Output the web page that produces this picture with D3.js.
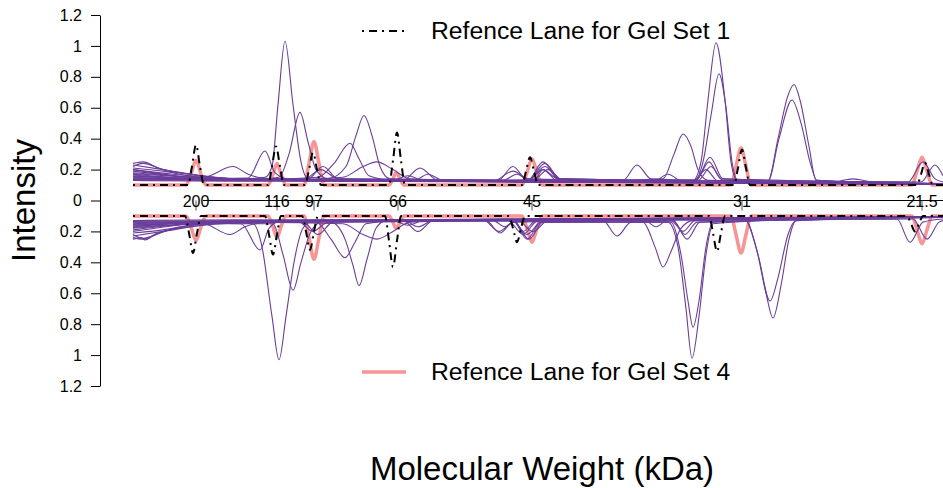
<!DOCTYPE html>
<html>
<head>
<meta charset="utf-8">
<script src="https://cdn.jsdelivr.net/npm/d3@7"></script>
<style>
  body { margin: 0; background: #fff; }
  svg { display: block; font-family: "Liberation Sans", Arial, sans-serif; }
</style>
</head>
<body>
<div class="chart"></div>
<script>
var svgWidth = 943;
var svgHeight = 488;

// marker ladder (kDa) and their migration positions
var markerLabels = ["200", "116", "97", "66", "45", "31", "21.5"];
var markerPos = [6.3, 14.4, 18.1, 26.5, 39.9, 60.9, 78.9];
var yTicks = [-1.2, -1, -0.8, -0.6, -0.4, -0.2, 0, 0.2, 0.4, 0.6, 0.8, 1, 1.2];

// reference lane, gel set 4 (same in both halves)
var ref4Lane = [[0,0.1],[5.3,0.1],[5.8,0.17],[6.3,0.26],[6.8,0.17],[7.3,0.1],[13.5,0.1],[14,0.17],[14.4,0.24],[14.8,0.17],[15.3,0.1],
  [17.1,0.1],[17.6,0.24],[18.1,0.38],[18.6,0.24],[19.1,0.1],[25.6,0.1],[26,0.14],[26.3,0.18],[26.7,0.14],[27.1,0.1],
  [38.9,0.1],[39.4,0.18],[39.9,0.27],[40.4,0.18],[40.9,0.1],[59.8,0.1],[60.3,0.22],[60.8,0.34],[61.3,0.22],[61.8,0.1],
  [77.9,0.1],[78.4,0.19],[78.9,0.28],[79.4,0.19],[79.9,0.1],[81,0.1]];

// reference lane, gel set 1
var ref1Top = [[0,0.1],[5.5,0.1],[5.9,0.22],[6.3,0.36],[6.7,0.22],[7.1,0.1],[13.5,0.1],[13.9,0.22],[14.3,0.35],[14.7,0.22],[15.1,0.1],
  [17.2,0.1],[17.6,0.2],[18,0.31],[18.4,0.2],[18.8,0.1],[25.6,0.1],[26,0.26],[26.4,0.44],[26.8,0.26],[27.2,0.1],
  [38.9,0.1],[39.3,0.19],[39.7,0.28],[40.1,0.19],[40.5,0.1],[60.1,0.1],[60.5,0.21],[60.9,0.33],[61.3,0.21],[61.7,0.1],
  [78.4,0.1],[78.8,0.17],[79.2,0.245],[79.6,0.17],[80,0.1],[81,0.1]];
var ref1Bottom = [[0,0.1],[5.2,0.1],[5.6,0.21],[6,0.34],[6.4,0.21],[6.8,0.1],[13.2,0.1],[13.6,0.22],[14,0.35],[14.4,0.22],[14.8,0.1],
  [16.9,0.1],[17.3,0.2],[17.7,0.32],[18.1,0.2],[18.5,0.1],[25.2,0.1],[25.6,0.26],[26,0.43],[26.4,0.26],[26.8,0.1],
  [37.6,0.1],[38,0.18],[38.4,0.27],[38.8,0.18],[39.2,0.1],[57.6,0.1],[58,0.21],[58.4,0.33],[58.8,0.21],[59.2,0.1],
  [77.4,0.1],[77.8,0.15],[78.2,0.2],[78.6,0.15],[79,0.1],[81,0.1]];

// sample lanes, top half
var lanesTop = [
  [[0,0.19],[4,0.16],[9,0.135],[13.2,0.15],[13.9,0.22],[14.5,0.62],[15.2,1.03],[16,0.62],[16.8,0.25],[17.5,0.14],[22,0.125],[35,0.12],[55,0.115],[81,0.105]],
  [[0,0.22],[1,0.24],[3,0.2],[8,0.15],[12,0.135],[14.6,0.15],[15.6,0.3],[16.7,0.57],[17.5,0.38],[18.3,0.2],[19.5,0.14],[30,0.125],[50,0.12],[81,0.11]],
  [[0,0.17],[6,0.14],[12,0.13],[19.5,0.14],[21.3,0.22],[22.3,0.42],[23.1,0.55],[23.9,0.42],[24.7,0.22],[25.7,0.14],[40,0.12],[60,0.115],[81,0.11]],
  [[0,0.2],[5,0.155],[12,0.135],[18.5,0.15],[20.1,0.24],[21.7,0.37],[22.6,0.27],[23.6,0.16],[26,0.13],[45,0.12],[81,0.11]],
  [[0,0.15],[7,0.135],[14,0.13],[21,0.15],[23,0.22],[24.4,0.25],[26,0.2],[27.7,0.14],[40,0.12],[81,0.105]],
  [[0,0.21],[3,0.19],[7,0.15],[10,0.22],[11.5,0.17],[13,0.145],[20,0.13],[40,0.12],[81,0.105]],
  [[0,0.16],[6,0.14],[11.5,0.145],[13.2,0.32],[14.2,0.18],[15.5,0.14],[30,0.125],[81,0.11]],
  [[0,0.18],[6,0.15],[14,0.13],[36,0.125],[38,0.19],[39.5,0.14],[45,0.12],[53,0.14],[54.1,0.3],[55,0.43],[55.8,0.35],[56.5,0.2],[57.5,0.13],[70,0.115],[81,0.105]],
  [[0,0.14],[8,0.13],[20,0.125],[39.5,0.13],[41,0.2],[42.5,0.14],[56,0.13],[56.8,0.25],[57.5,0.65],[58.3,1.02],[59.2,0.65],[59.8,0.25],[60.4,0.13],[70,0.115],[81,0.105]],
  [[0,0.13],[10,0.125],[39.5,0.13],[41.2,0.24],[42.7,0.14],[56.2,0.13],[57,0.25],[57.8,0.55],[58.6,0.82],[59.3,0.6],[59.9,0.25],[60.5,0.13],[81,0.105]],
  [[0,0.24],[1,0.25],[2.5,0.21],[7,0.16],[14,0.13],[28,0.125],[29.5,0.17],[31,0.13],[63.5,0.125],[64.5,0.4],[65.5,0.68],[66.1,0.75],[66.7,0.65],[67.6,0.35],[68.3,0.13],[81,0.105]],
  [[0,0.23],[3,0.2],[8,0.15],[15,0.13],[40,0.12],[41,0.2],[42.4,0.13],[63.5,0.125],[64.6,0.4],[65.9,0.65],[66.8,0.5],[67.7,0.25],[68.4,0.13],[81,0.105]],
  [[0,0.155],[8,0.14],[16,0.13],[39.5,0.13],[41,0.25],[42.6,0.14],[56.3,0.13],[57.7,0.28],[59,0.14],[77.5,0.12],[79,0.25],[80.2,0.14],[81,0.12]],
  [[0,0.145],[9,0.135],[36.5,0.13],[38,0.22],[39.3,0.14],[49,0.13],[50.4,0.23],[51.8,0.14],[56.3,0.13],[57.6,0.25],[58.8,0.14],[78.8,0.12],[80.2,0.23],[81,0.16]],
  [[0,0.135],[10,0.13],[27,0.13],[28.7,0.21],[30.5,0.13],[39.5,0.13],[41.2,0.22],[42.7,0.13],[56.5,0.13],[57.8,0.22],[59,0.13],[81,0.11]],
  [[0,0.165],[8,0.14],[17.5,0.14],[19,0.22],[20.5,0.14],[40,0.13],[41.5,0.2],[43,0.13],[56,0.125],[57.3,0.2],[58.5,0.125],[70,0.12],[72,0.14],[74,0.12],[81,0.11]],
  [[0,0.2],[4,0.17],[10,0.14],[17,0.135],[18.8,0.2],[20.5,0.14],[37,0.13],[38.4,0.17],[39.6,0.13],[81,0.105]],
  [[0,0.175],[8,0.145],[26,0.13],[27.5,0.16],[29,0.13],[52,0.12],[53.5,0.17],[55,0.12],[81,0.105]]
];

// sample lanes, bottom half
var lanesBottom = [
  [[0,0.19],[4,0.16],[9,0.14],[12,0.15],[12.9,0.3],[13.9,0.75],[14.6,1.03],[15.3,0.75],[16.1,0.4],[17,0.18],[18,0.13],[30,0.125],[55,0.115],[81,0.105]],
  [[0,0.22],[1,0.245],[3,0.2],[8,0.15],[14,0.15],[15,0.35],[16,0.58],[16.8,0.4],[17.8,0.2],[19,0.135],[30,0.125],[50,0.12],[81,0.11]],
  [[0,0.17],[6,0.145],[10.8,0.15],[12.7,0.32],[13.6,0.18],[14.5,0.14],[22,0.13],[45,0.12],[81,0.11]],
  [[0,0.2],[6,0.15],[12,0.135],[19.8,0.14],[21.2,0.25],[22,0.42],[22.6,0.55],[23.4,0.38],[24.3,0.18],[25.3,0.13],[40,0.12],[81,0.11]],
  [[0,0.15],[7,0.14],[18.3,0.14],[19.8,0.25],[21.2,0.37],[22.2,0.27],[23.3,0.15],[26,0.13],[45,0.12],[81,0.105]],
  [[0,0.21],[3,0.19],[7,0.15],[9.7,0.22],[11.2,0.17],[12.8,0.145],[20,0.13],[40,0.12],[81,0.105]],
  [[0,0.16],[10,0.14],[21,0.15],[23,0.22],[24.4,0.25],[26,0.2],[27.7,0.14],[40,0.12],[81,0.105]],
  [[0,0.18],[6,0.15],[14,0.135],[35,0.125],[36.6,0.2],[38,0.14],[45,0.12],[51,0.14],[52.2,0.3],[53,0.43],[53.8,0.33],[54.8,0.18],[56,0.13],[70,0.115],[81,0.105]],
  [[0,0.14],[8,0.135],[20,0.125],[38,0.13],[39.4,0.22],[40.8,0.14],[53.5,0.14],[54.5,0.3],[55.3,0.7],[55.9,1.02],[56.6,0.75],[57.3,0.35],[58,0.15],[70,0.115],[81,0.105]],
  [[0,0.13],[10,0.125],[38,0.13],[39.6,0.25],[41,0.14],[53.8,0.14],[54.8,0.35],[55.5,0.65],[56,0.82],[56.6,0.65],[57.3,0.3],[58,0.14],[81,0.105]],
  [[0,0.24],[1,0.25],[2.5,0.21],[7,0.16],[14,0.135],[27,0.125],[28.5,0.17],[30,0.13],[61.2,0.125],[62.3,0.3],[63.3,0.6],[64,0.76],[64.8,0.55],[65.6,0.25],[66.3,0.13],[81,0.105]],
  [[0,0.23],[3,0.2],[8,0.15],[15,0.13],[38,0.12],[39,0.2],[40.3,0.13],[61.2,0.125],[62.5,0.35],[63.7,0.65],[64.5,0.5],[65.5,0.22],[66.3,0.13],[81,0.105]],
  [[0,0.155],[8,0.14],[16,0.13],[38,0.13],[39.4,0.25],[40.8,0.14],[54,0.13],[55.4,0.25],[56.7,0.14],[76.4,0.12],[77.7,0.27],[79,0.14],[81,0.12]],
  [[0,0.145],[9,0.135],[35.3,0.13],[36.7,0.21],[38,0.14],[47,0.13],[48.4,0.23],[49.8,0.14],[54,0.13],[55.2,0.22],[56.4,0.14],[78,0.12],[79.4,0.25],[80.6,0.14],[81,0.13]],
  [[0,0.135],[10,0.13],[27,0.13],[28.5,0.2],[30,0.13],[37.5,0.13],[39,0.22],[40.5,0.13],[53.8,0.13],[55,0.2],[56.2,0.13],[81,0.11]],
  [[0,0.165],[8,0.14],[17,0.14],[18.5,0.22],[20,0.14],[38.5,0.13],[40,0.2],[41.5,0.13],[81,0.11]],
  [[0,0.25],[0.8,0.24],[1.2,0.255],[2,0.23],[5,0.17],[10,0.14],[16.5,0.135],[18,0.2],[19.5,0.14],[36,0.13],[37.2,0.17],[38.4,0.13],[81,0.105]],
  [[0,0.175],[8,0.145],[26,0.13],[27.5,0.16],[29,0.13],[51,0.12],[52.3,0.17],[53.6,0.12],[81,0.105]]
];

var purple = "#6a3d9a";
var pink = "#f79494";

var svg = d3.select(".chart")
    .append("svg")
    .attr("width", svgWidth)
    .attr("height", svgHeight);

var xScale = d3.scaleLinear().domain([0, 81]).range([133, 943]);
// signed scale for the axis: positive = top half, negative = bottom half
var yScale = d3.scaleLinear().domain([-1.2, 1.2]).range([386, 15]);

var lineTop = d3.line()
    .x(function(d) { return xScale(d[0]); })
    .y(function(d) { return yScale(d[1]); })
    .curve(d3.curveMonotoneX);
var lineBottom = d3.line()
    .x(function(d) { return xScale(d[0]); })
    .y(function(d) { return yScale(-d[1]); })
    .curve(d3.curveMonotoneX);

// y axis
var leftAxis = d3.axisLeft(yScale)
    .tickValues(yTicks)
    .tickSizeInner(9)
    .tickSizeOuter(0)
    .tickPadding(9)
    .tickFormat(function(d) { return String(Math.abs(+d.toFixed(1))); });
var axisG = svg.append("g")
    .attr("transform", "translate(100,0)")
    .call(leftAxis);
axisG.selectAll("text").attr("font-size", "16px").attr("font-family", "Liberation Sans, Arial, sans-serif").attr("fill", "#000");
axisG.selectAll("line, path").attr("stroke", "#000");

// zero line with marker labels
svg.append("line")
    .attr("x1", xScale(7))
    .attr("x2", xScale(81))
    .attr("y1", yScale(0))
    .attr("y2", yScale(0))
    .attr("stroke", "#000")
    .attr("stroke-width", 1);

svg.selectAll(".mtick")
    .data(markerPos)
    .enter()
    .append("line")
    .attr("class", "mtick")
    .attr("x1", function(d) { return xScale(d); })
    .attr("x2", function(d) { return xScale(d); })
    .attr("y1", yScale(0))
    .attr("y2", yScale(0) + 10)
    .attr("stroke", "#555")
    .attr("stroke-width", 1);

svg.selectAll(".mlabel")
    .data(markerPos)
    .enter()
    .append("text")
    .attr("class", "mlabel")
    .attr("x", function(d) { return xScale(d); })
    .attr("y", yScale(0) + 6)
    .attr("text-anchor", "middle")
    .attr("font-size", "16px")
    .text(function(d, i) { return markerLabels[i]; });

// pink reference lane (gel set 4), both halves
svg.append("path").datum(ref4Lane)
    .attr("d", lineTop).attr("fill", "none").attr("stroke", pink).attr("stroke-width", 3.5)
    .attr("stroke-linejoin", "round");
svg.append("path").datum(ref4Lane)
    .attr("d", lineBottom).attr("fill", "none").attr("stroke", pink).attr("stroke-width", 3.5)
    .attr("stroke-linejoin", "round");

// sample lanes
svg.selectAll(".laneTop")
    .data(lanesTop)
    .enter()
    .append("path")
    .attr("class", "laneTop")
    .attr("d", lineTop)
    .attr("fill", "none")
    .attr("stroke", purple)
    .attr("stroke-width", 1.1);
svg.selectAll(".laneBottom")
    .data(lanesBottom)
    .enter()
    .append("path")
    .attr("class", "laneBottom")
    .attr("d", lineBottom)
    .attr("fill", "none")
    .attr("stroke", purple)
    .attr("stroke-width", 1.1);

// black dot-dash reference lane (gel set 1)
svg.append("path").datum(ref1Top)
    .attr("d", lineTop).attr("fill", "none").attr("stroke", "#000").attr("stroke-width", 2)
    .attr("stroke-dasharray", "2,5,8,5");
svg.append("path").datum(ref1Bottom)
    .attr("d", lineBottom).attr("fill", "none").attr("stroke", "#000").attr("stroke-width", 2)
    .attr("stroke-dasharray", "2,5,8,5");

// legends
svg.append("line")
    .attr("x1", 362).attr("x2", 404).attr("y1", 31).attr("y2", 31)
    .attr("stroke", "#000").attr("stroke-width", 2).attr("stroke-dasharray", "2,5,8,5");
svg.append("text")
    .attr("x", 431).attr("y", 39)
    .attr("font-size", "24.7px")
    .text("Refence Lane for Gel Set 1");

svg.append("line")
    .attr("x1", 362).attr("x2", 406).attr("y1", 372).attr("y2", 372)
    .attr("stroke", pink).attr("stroke-width", 3.5);
svg.append("text")
    .attr("x", 431).attr("y", 380)
    .attr("font-size", "24.7px")
    .text("Refence Lane for Gel Set 4");

// axis titles
svg.append("text")
    .attr("transform", "translate(35," + yScale(0) + ") rotate(-90)")
    .attr("text-anchor", "middle")
    .attr("font-size", "33px")
    .text("Intensity");

svg.append("text")
    .attr("x", 542)
    .attr("y", 480)
    .attr("text-anchor", "middle")
    .attr("font-size", "33px")
    .text("Molecular Weight (kDa)");
</script>
</body>
</html>
